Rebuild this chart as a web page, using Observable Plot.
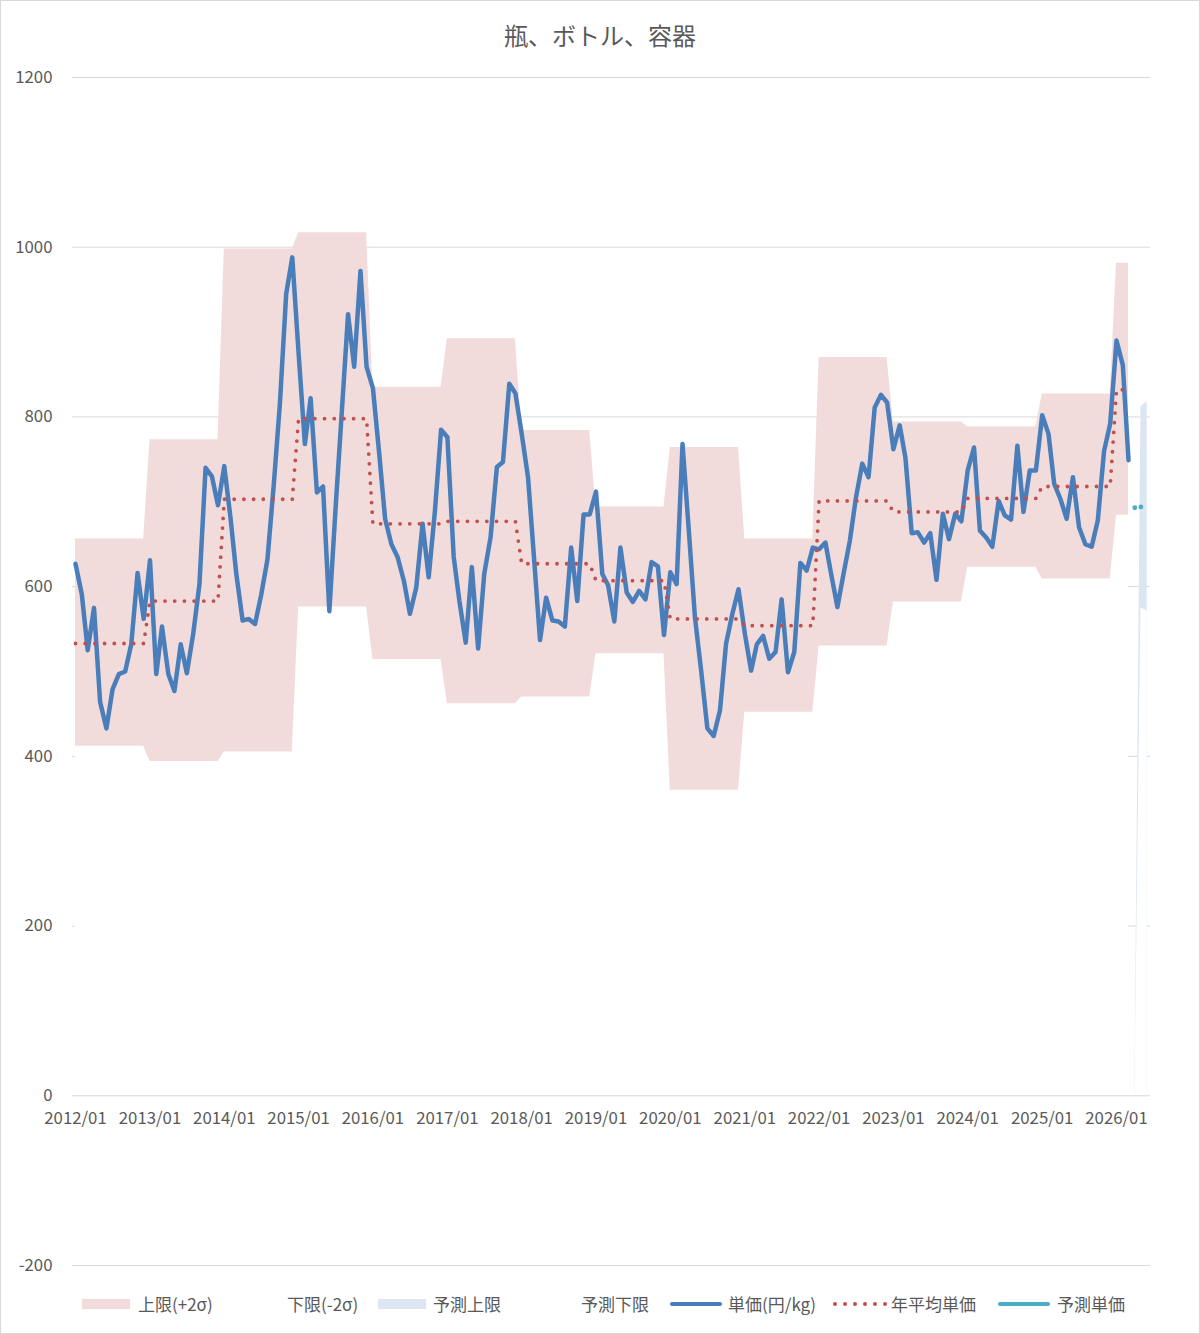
<!DOCTYPE html>
<html>
<head>
<meta charset="utf-8">
<script src="https://cdn.jsdelivr.net/npm/d3@7"></script>
<script src="https://cdn.jsdelivr.net/npm/@observablehq/plot@0.6"></script>
<style>
  body { margin: 0; background: #fff; }
  #wrap { position: relative; width: 1200px; height: 1334px; overflow: hidden;
          font-family: "Noto Sans CJK JP", "Noto Sans", sans-serif; color: #595959; background: #fff; }
  #wrap::after { content: ""; position: absolute; left: 0; top: 0; right: 0; bottom: 0;
                 border: 1px solid #d9d9d9; pointer-events: none; }
  #title { position: absolute; left: 0; top: 0; width: 1200px; height: 70px; line-height: 70px;
           text-align: center; font-size: 24px; }
  #chart { position: absolute; left: 0; top: 60px; }
  #legend { position: absolute; left: 0; top: 1289px; width: 1200px; height: 30px; font-size: 17px; }
  .lg { position: absolute; top: 0; height: 30px; line-height: 30px; white-space: nowrap; }
  .sw { position: absolute; }
</style>
</head>
<body>
<div id="wrap">
  <div id="title">瓶、ボトル、容器</div>
  <div id="chart"></div>
  <div id="legend"></div>
</div>
<script>
// ---- data ----
const startYear = 2012;
// monthly unit price (円/kg), 2012/01 .. 2026/03
const price = [
  627, 591, 525, 575, 464, 433, 479, 497, 500, 532, 616, 562,
  631, 497, 553, 497, 477, 532, 498, 544, 603, 740, 730, 696,
  742, 680, 615, 560, 562, 556, 590, 632, 720, 815, 945, 988,
  875, 768, 822, 711, 718, 571, 690, 805, 921, 859, 972, 859,
  834, 757, 680, 650, 635, 607, 568, 599, 674, 611, 690, 785,
  776, 635, 583, 534, 623, 527, 615, 658, 741, 747, 839, 828,
  780, 729, 639, 537, 587, 560, 559, 553, 646, 583, 685, 685,
  712, 615, 602, 559, 646, 593, 582, 595, 585, 629, 624, 543,
  617, 603, 768, 666, 564, 500, 433, 424, 454, 533, 568, 597,
  545, 501, 532, 542, 515, 523, 585, 499, 523, 628, 619, 646,
  644, 652, 615, 576, 615, 654, 705, 745, 729, 811, 826, 817,
  762, 790, 752, 663, 664, 652, 663, 608, 686, 656, 686, 677,
  737, 764, 666, 658, 647, 701, 684, 679, 766, 688, 737, 737,
  802, 780, 721, 703, 680, 729, 670, 650, 647, 678, 760, 792,
  890, 861, 749
];
// yearly values 2012 .. 2026
const years      = [2012, 2013, 2014, 2015, 2016, 2017, 2018, 2019, 2020, 2021, 2022, 2023, 2024, 2025, 2026];
const upper2s    = [656, 773, 998, 1017, 835, 892, 784, 694, 764, 656, 870, 794, 788, 827, 981];
const lower2s    = [412, 394, 405, 576, 514, 462, 470, 521, 360, 452, 530, 582, 623, 609, 684];
const yearAvg    = [533, 583, 703, 798, 674, 677, 627, 607, 562, 554, 701, 688, 704, 718, 832];
// forecast
const fcMonths   = ["2026-04", "2026-05", "2026-06"];
const fcUpper    = [0, 812, 818];
const fcLower    = [0, 575, 571];
const fcPriceMonths = ["2026-04", "2026-05"];
const fcPrice    = [693, 694];
// axes
const yTicks = [-200, 0, 200, 400, 600, 800, 1000, 1200];
const xTickLabels = ["2012/01","2013/01","2014/01","2015/01","2016/01","2017/01","2018/01",
  "2019/01","2020/01","2021/01","2022/01","2023/01","2024/01","2025/01","2026/01"];

// ---- tables ----
const parseYM = s => { const [y, m] = s.split(/[-\/]/).map(Number); return new Date(Date.UTC(y, m - 1, 1)); };
const rows = price.map((v, i) => {
  const yi = Math.floor(i / 12);
  return { date: new Date(Date.UTC(startYear, i, 1)), price: v,
           upper: upper2s[yi], lower: lower2s[yi], avg: yearAvg[yi] };
});
const fc = fcMonths.map((m, i) => ({ date: parseYM(m), upper: fcUpper[i], lower: fcLower[i] }));
const fcp = fcPriceMonths.map((m, i) => ({ date: parseYM(m), v: fcPrice[i] }));
const xTicks = xTickLabels.map(s => ({ date: parseYM(s), label: s }));

const grid = "#d9d9d9";
const chart = Plot.plot({
  width: 1200,
  height: 1225,
  marginTop: 17,
  marginBottom: 20,
  marginLeft: 72,
  marginRight: 50,
  style: { fontFamily: '"Noto Sans CJK JP", "Noto Sans", sans-serif', background: "transparent", overflow: "visible" },
  x: { type: "utc", domain: [new Date(Date.UTC(2011, 11, 17, 7)), new Date(Date.UTC(2026, 5, 17))], axis: null },
  y: { domain: [-200, 1200], axis: null },
  marks: [
    Plot.ruleY(yTicks.filter(t => t !== 0), { stroke: grid, strokeWidth: 1 }),
    Plot.areaY(rows, { x: "date", y1: () => 0, y2: "upper", fill: "#f2dcdb" }),
    Plot.areaY(rows, { x: "date", y1: () => 0, y2: "lower", fill: "#ffffff" }),
    Plot.areaY(fc, { x: "date", y1: () => 0, y2: "upper", fill: "#dce6f2" }),
    Plot.areaY(fc, { x: "date", y1: () => 0, y2: "lower", fill: "#ffffff" }),
    Plot.ruleY([0], { stroke: grid, strokeWidth: 1 }),
    Plot.line(rows, { x: "date", y: "price", stroke: "#4a7ebb", strokeWidth: 4.5,
                      strokeLinejoin: "round", strokeLinecap: "round" }),
    Plot.line(rows, { x: "date", y: "avg", stroke: "#c0504d", strokeWidth: 3.8,
                      strokeDasharray: "0 9.7", strokeLinecap: "round" }),
    Plot.dot(fcp, { x: "date", y: "v", r: 2.4, fill: "#4bacc6", stroke: "none" }),
    Plot.text(yTicks, { y: d => d, text: d => String(d), frameAnchor: "left", textAnchor: "end",
                        dx: -20, fontSize: 16.8, fill: "#595959" }),
    Plot.text(xTicks, { x: "date", y: () => 0, text: "label", dy: 23, fontSize: 16.8, fill: "#595959" })
  ]
});
document.getElementById("chart").appendChild(chart);

// ---- legend ----
const legendItems = [
  { label: "上限(+2σ)", type: "rect", color: "#f2dcdb", sx: 82, tx: 138 },
  { label: "下限(-2σ)", type: "none", color: "none", sx: 232, tx: 287 },
  { label: "予測上限", type: "rect", color: "#dce6f2", sx: 378, tx: 433 },
  { label: "予測下限", type: "none", color: "none", sx: 527, tx: 581 },
  { label: "単価(円/kg)", type: "line", color: "#4a7ebb", sx: 670, tx: 728 },
  { label: "年平均単価", type: "dots", color: "#c0504d", sx: 833, tx: 891 },
  { label: "予測単価", type: "line", color: "#4bacc6", sx: 998, tx: 1057 }
];
const lg = document.getElementById("legend");
for (const it of legendItems) {
  if (it.type === "rect") {
    const s = document.createElement("div");
    s.className = "sw";
    Object.assign(s.style, { left: it.sx + "px", top: "10px", width: "48px", height: "10px", background: it.color });
    lg.appendChild(s);
  } else if (it.type === "line") {
    const s = document.createElement("div");
    s.className = "sw";
    Object.assign(s.style, { left: it.sx + "px", top: "13px", width: "52px", height: "4px", background: it.color, borderRadius: "2px" });
    lg.appendChild(s);
  } else if (it.type === "dots") {
    for (let k = 0; k < 6; k++) {
      const s = document.createElement("div");
      s.className = "sw";
      Object.assign(s.style, { left: (it.sx + k * 10) + "px", top: "13px", width: "4px", height: "4px", background: it.color, borderRadius: "50%" });
      lg.appendChild(s);
    }
  }
  const t = document.createElement("div");
  t.className = "lg";
  t.style.left = it.tx + "px";
  t.textContent = it.label;
  lg.appendChild(t);
}
</script>
</body>
</html>
